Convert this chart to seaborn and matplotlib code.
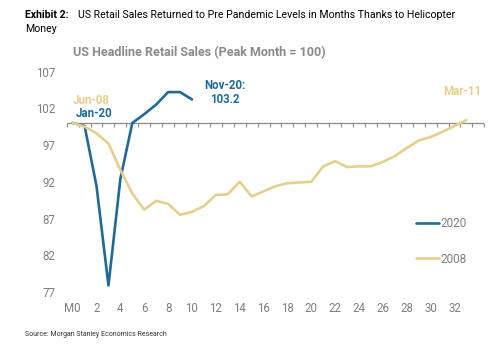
import matplotlib
matplotlib.use("Agg")
import matplotlib.pyplot as plt
import seaborn as sns
import pandas as pd
import numpy as np
from matplotlib.ticker import NullFormatter

# ---- data ----
months_2020 = list(range(0, 11))
values_2020 = [100.0, 99.6, 91.4, 77.9, 92.4, 100.0, 101.2, 102.5, 104.2, 104.2, 103.2]
months_2008 = list(range(0, 34))
values_2008 = [100.0, 99.5, 98.6, 97.2, 93.6, 90.4, 88.2, 89.4, 89.0, 87.5,
               87.9, 88.7, 90.2, 90.3, 92.0, 90.0, 90.7, 91.4, 91.8, 91.9,
               92.0, 94.1, 94.8, 94.0, 94.1, 94.1, 94.7, 95.5, 96.6, 97.6,
               98.1, 98.8, 99.6, 100.4]
series_names = ["2020", "2008"]
x_tick_values = list(range(0, 33, 2))
x_tick_labels = ["M0"] + [str(v) for v in range(2, 33, 2)]
y_ticks = [77, 82, 87, 92, 97, 102, 107]

BLUE = "#1f6a97"
GOLD = "#e6cf8c"
GRAY = "#7f7f7f"
AXIS_GRAY = "#8c8c8c"

df = pd.concat([
    pd.DataFrame({"month": months_2020, "value": values_2020, "series": series_names[0]}),
    pd.DataFrame({"month": months_2008, "value": values_2008, "series": series_names[1]}),
], ignore_index=True)

sns.set_style("white")
plt.rcParams["font.family"] = ["Roboto", "DejaVu Sans"]

fig = plt.figure(figsize=(5.0, 3.49), dpi=100)
ax = fig.add_axes([0.1334, 0.1633, 0.8352, 0.6318])

# axis line at 100
ax.axhline(100, color=AXIS_GRAY, linewidth=0.9, zorder=1)

sns.lineplot(data=df, x="month", y="value", hue="series",
             palette={"2020": BLUE, "2008": GOLD}, hue_order=series_names,
             linewidth=1.9, ax=ax, legend=True, zorder=3)

ax.set_xlim(-0.5, 34.5)
ax.set_ylim(77, 107)
ax.set_yticks(y_ticks)
ax.set_yticklabels([str(v) for v in y_ticks])
ax.set_xticks(x_tick_values)
ax.set_xticklabels(x_tick_labels)
ax.tick_params(axis="both", length=0, labelsize=8.3, labelcolor=GRAY)
ax.tick_params(axis="y", pad=8)
ax.tick_params(axis="x", pad=7)
ax.set_xlabel("")
ax.set_ylabel("")
for s in ax.spines.values():
    s.set_visible(False)
ax.grid(False)

# month tick marks on the 100 line
sec = ax.secondary_xaxis((100 - 77) / 30)
sec.set_xticks(np.arange(-0.5, 35.0, 1.0))
sec.xaxis.set_major_formatter(NullFormatter())
sec.xaxis.set_ticks_position("bottom")
sec.tick_params(axis="x", direction="out", length=3, width=0.8, color=AXIS_GRAY,
                labelbottom=False, labeltop=False)
for s in sec.spines.values():
    s.set_visible(False)

# legend
leg = ax.legend(loc="upper left", bbox_to_anchor=(0.812, 0.388), frameon=False,
                handlelength=1.9, handletextpad=0.15, labelspacing=1.9,
                fontsize=8.5)
for t in leg.get_texts():
    t.set_color(GRAY)

# annotations
def px(x, y):
    return (x / 500.0, 1 - y / 349.0)

fig.text(*px(91, 101), "Jun-08", color=GOLD, fontsize=8.3, fontweight="bold",
         ha="center", va="center")
fig.text(*px(94, 113.5), "Jan-20", color=BLUE, fontsize=8.3, fontweight="bold",
         ha="center", va="center")
fig.text(*px(225, 92.5), "Nov-20:\n103.2", color=BLUE, fontsize=8.3, fontweight="bold",
         ha="center", va="center", linespacing=1.05)
fig.text(*px(462, 92), "Mar-11", color=GOLD, fontsize=8.3, fontweight="bold",
         ha="center", va="center")

# titles
fig.text(*px(73, 53), "US Headline Retail Sales (Peak Month = 100)", color="#8a8a8a",
         fontsize=9.0, fontweight="bold", ha="left", va="center")
fig.text(*px(25, 15), "Exhibit 2:", color="black", fontsize=7.6,
         fontweight="bold", ha="left", va="center")
fig.text(*px(78, 15), "US Retail Sales Returned to Pre Pandemic Levels in Months Thanks to Helicopter",
         color="black", fontsize=7.6, ha="left", va="center")
fig.text(*px(25, 28.5), "Money", color="black", fontsize=7.6, ha="left", va="center")
fig.text(*px(25, 335), "Source: Morgan Stanley Economics Research", color="#333333",
         fontsize=5.0, ha="left", va="center")

fig.savefig("out.png", dpi=100)
